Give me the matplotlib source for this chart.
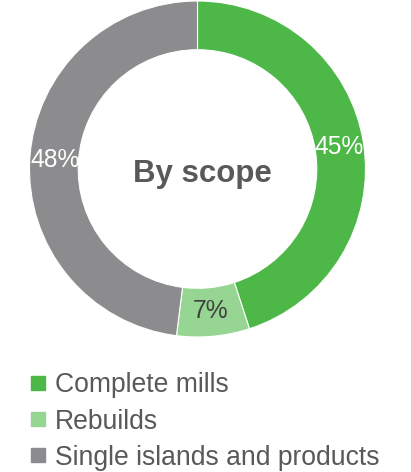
import matplotlib
matplotlib.use("Agg")
import matplotlib.pyplot as plt
from matplotlib.lines import Line2D

categories = ["Complete mills", "Rebuilds", "Single islands and products"]
values = [45, 7, 48]
colors = ["#4db848", "#97d692", "#8c8c8e"]
label_colors = ["white", "#404040", "white"]
center_title = "By scope"

W, H = 411, 472
fig = plt.figure(figsize=(W / 100, H / 100), dpi=100)
plt.rcParams['font.family'] = ['Liberation Sans', 'DejaVu Sans']

cx, cy, R = 197.5, 169, 168
ax = fig.add_axes([(cx - R) / W, (H - cy - R) / H, 2 * R / W, 2 * R / H])
wedges, texts = ax.pie(values, colors=colors, startangle=90, counterclock=False,
                       radius=1.0, wedgeprops=dict(width=0.29, linewidth=0.8, edgecolor='white'),
                       labels=[f"{v}%" for v in values], labeldistance=0.85,
                       textprops=dict(fontsize=17.7))
for t, c in zip(texts, label_colors):
    t.set_color(c)
    t.set_ha('center')
    t.set_va('center')
ax.set_xlim(-1, 1)
ax.set_ylim(-1, 1)
ax.set_aspect('equal')
ax.axis('off')
ax.text(0.03, -0.077, center_title, ha='center', va='baseline', fontsize=22.5,
        fontweight='bold', color='#595959')

handles = [Line2D([], [], marker='s', ls='', markersize=10, color=c) for c in colors]
fig.legend(handles, categories, loc='upper left', bbox_to_anchor=(26 / W, 1 - 372.5 / H),
           frameon=False, fontsize=19.1, labelcolor='#595959', handletextpad=0.2,
           labelspacing=0.38, borderpad=0, borderaxespad=0, handlelength=0.9)

fig.savefig("out.png", dpi=100)
